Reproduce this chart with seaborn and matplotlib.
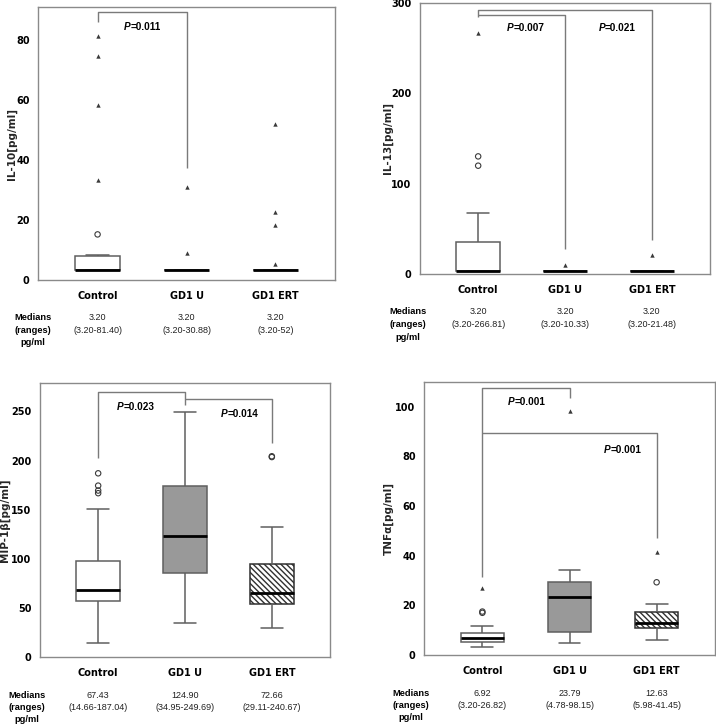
import numpy as np
import pandas as pd
import matplotlib
matplotlib.use("Agg")
import matplotlib.pyplot as plt
import matplotlib.transforms as mtransforms
import seaborn as sns

# ---------------- data ----------------
cats = ["Control", "GD1 U", "GD1 ERT"]

# five-number summaries: [lower whisker, Q1, median, Q3, upper whisker]
il10_box = [[3.2, 3.2, 3.2, 8.0, 8.2], [3.2, 3.2, 3.2, 3.2, 3.2], [3.2, 3.2, 3.2, 3.2, 3.2]]
il10_circles = [[15.2], [], []]
il10_extremes = [[33.5, 58.3, 74.5, 81.4], [9.1, 30.88], [5.5, 18.2, 22.6, 52.0]]
il10_medians = ["3.20", "3.20", "3.20"]
il10_ranges = ["(3.20-81.40)", "(3.20-30.88)", "(3.20-52)"]
il10_p = ["0.011"]

il13_box = [[3.2, 3.2, 3.2, 35.3, 67.2], [3.2, 3.2, 3.2, 3.2, 3.2], [3.2, 3.2, 3.2, 3.2, 3.2]]
il13_circles = [[119.9, 130.2], [], []]
il13_extremes = [[266.81], [10.33], [21.48]]
il13_medians = ["3.20", "3.20", "3.20"]
il13_ranges = ["(3.20-266.81)", "(3.20-10.33)", "(3.20-21.48)"]
il13_p = ["0.007", "0.021"]

mip_box = [[14.66, 57.3, 67.8, 98.2, 150.5], [34.95, 86.0, 123.7, 174.0, 249.69], [29.11, 54.0, 65.0, 94.6, 132.2]]
mip_circles = [[166.8, 169.5, 174.5, 187.04], [], [203.6, 204.4]]
mip_extremes = [[], [], []]
mip_medians = ["67.43", "124.90", "72.66"]
mip_ranges = ["(14.66-187.04)", "(34.95-249.69)", "(29.11-240.67)"]
mip_p = ["0.023", "0.014"]

tnf_box = [[3.2, 5.4, 6.9, 9.0, 11.7], [4.78, 9.4, 23.2, 29.6, 34.3], [5.98, 10.8, 12.8, 17.3, 20.7]]
tnf_circles = [[17.0, 17.5], [], [29.3]]
tnf_extremes = [[26.82], [98.15], [41.45]]
tnf_medians = ["6.92", "23.79", "12.63"]
tnf_ranges = ["(3.20-26.82)", "(4.78-98.15)", "(5.98-41.45)"]
tnf_p = ["0.001", "0.001"]

# ---------------- styling ----------------
sns.set_style("white")
plt.rcParams["font.family"] = ["DejaVu Sans"]
plt.rcParams["hatch.linewidth"] = 1.0

W, H = 716, 726
fig = plt.figure(figsize=(W / 100, H / 100), dpi=100)

LINE = "#5f5f5f"
SPINE = "#8a8a8a"
BRK = "#7a7a7a"
SMALL = "Liberation Sans"


def add_axes_px(L, R, T, B):
    return fig.add_axes([L / W, 1 - B / H, (R - L) / W, (B - T) / H])


def ptext(ax, x, y, val):
    off = -8.0
    ax.annotate("P", (x, y), xytext=(off, 0), textcoords="offset points",
                ha="right", va="center", fontstyle="italic", fontweight="bold",
                fontsize=7.2, family=SMALL, color="black")
    ax.annotate("=" + val, (x, y), xytext=(off, 0), textcoords="offset points",
                ha="left", va="center", fontweight="bold",
                fontsize=7.2, family=SMALL, color="black")


def panel(rect, box, circles, extremes, fills, hatched, ylim, yticks, ylabel,
          ylab_x, brackets, ptexts, medians, ranges, block_x):
    L, R, T, B = rect
    ax = add_axes_px(L, R, T, B)
    rows = []
    for g, vals in zip(cats, box):
        for v in vals:
            rows.append((g, v))
    df = pd.DataFrame(rows, columns=["group", "value"])
    sns.boxplot(data=df, x="group", y="value", order=cats, hue="group",
                hue_order=cats, palette=dict(zip(cats, fills)), legend=False,
                saturation=1, width=0.5, whis=(0, 100), showfliers=False,
                linecolor=LINE, linewidth=1.1,
                medianprops=dict(color="black", linewidth=2.0), ax=ax)
    for p in ax.patches:
        xs = p.get_path().vertices[:, 0]
        idx = int(round(float(np.mean(xs))))
        if 0 <= idx < 3 and hatched[idx]:
            p.set_hatch("\\" * 6)
            p.set_edgecolor("#303030")
    for i, vals in enumerate(circles):
        if vals:
            ax.scatter([i] * len(vals), vals, s=15, facecolors="none",
                       edgecolors="#3a3a3a", linewidths=0.8, zorder=5)
    for i, vals in enumerate(extremes):
        if vals:
            ax.scatter([i] * len(vals), vals, s=10, marker="^", color="#3a3a3a",
                       linewidths=0, zorder=5)
    for seg in brackets:
        xs, ys = zip(*seg)
        ax.plot(xs, ys, color=BRK, lw=1.0, solid_capstyle="butt", zorder=4)
    for (x, y), val in ptexts:
        ptext(ax, x, y, val)

    ax.set_xlim(-0.67, 2.67)
    ax.set_ylim(*ylim)
    ax.set_yticks(yticks)
    ax.set_yticklabels([str(t) for t in yticks], fontweight="bold", fontsize=7)
    ax.set_xticks(range(3))
    ax.set_xticklabels(cats, fontweight="bold", fontsize=7)
    ax.set_xlabel("")
    ax.set_ylabel(ylabel, fontweight="bold", fontsize=7.5)
    ax.yaxis.set_label_coords(ylab_x, 0.5)
    ax.tick_params(axis="both", direction="out", length=4, width=0.8,
                   color=SPINE, labelcolor="black", pad=2)
    ax.tick_params(axis="x", pad=4)
    for s in ax.spines.values():
        s.set_visible(True)
        s.set_color(SPINE)
        s.set_linewidth(1.0)

    trans = mtransforms.blended_transform_factory(ax.transData, fig.transFigure)
    ys = [1 - (B + 38) / H, 1 - (B + 50.5) / H, 1 - (B + 63) / H]
    for i in range(3):
        ax.text(i, ys[0], medians[i], transform=trans, ha="center", va="center",
                fontsize=6.5, family=SMALL, color="#222222")
        ax.text(i, ys[1], ranges[i], transform=trans, ha="center", va="center",
                fontsize=6.5, family=SMALL, color="#222222")
    for lab, y in zip(["Medians", "(ranges)", "pg/ml"], ys):
        fig.text(block_x / W, y, lab, ha="center", va="center", fontsize=6.7,
                 fontweight="bold", family=SMALL, color="black")
    return ax


white3 = ["white", "white", "white"]
mixed = ["white", "#999999", "white"]

panel((38, 335, 7, 280), il10_box, il10_circles, il10_extremes, white3,
      [False, False, False], (0, 91), [0, 20, 40, 60, 80], "IL-10[pg/ml]", -0.071,
      [[(0, 86), (0, 89.4), (1, 89.4), (1, 37.3)]],
      [((0.5, 84.5), il10_p[0])], il10_medians, il10_ranges, 33)

panel((420, 710, 3, 274), il13_box, il13_circles, il13_extremes, white3,
      [False, False, False], (0, 300), [0, 100, 200, 300], "IL-13[pg/ml]", -0.093,
      [[(0, 285), (0, 292.6), (2, 292.6), (2, 37.7)],
       [(0, 287), (1, 287), (1, 27.8)]],
      [((0.54, 272), il13_p[0]), ((1.59, 272), il13_p[1])],
      il13_medians, il13_ranges, 408)

panel((40, 330, 383, 657), mip_box, mip_circles, mip_extremes, mixed,
      [False, False, True], (0, 279), [0, 50, 100, 150, 200, 250], "MIP-1β[pg/ml]", -0.103,
      [[(0, 202.4), (0, 269.6), (1, 269.6), (1, 256.7)],
       [(1, 262.8), (2, 262.8), (2, 217.7)]],
      [((0.42, 255), mip_p[0]), ((1.62, 247), mip_p[1])],
      mip_medians, mip_ranges, 27)

panel((424, 715, 382, 655), tnf_box, tnf_circles, tnf_extremes, mixed,
      [False, False, True], (0, 110), [0, 20, 40, 60, 80, 100], "TNFα[pg/ml]", -0.103,
      [[(0, 31.6), (0, 107.4), (1, 107.4), (1, 103.6)],
       [(0, 89.5), (2, 89.5), (2, 47.1)]],
      [((0.5, 101.9), tnf_p[0]), ((1.6, 82.4), tnf_p[1])],
      tnf_medians, tnf_ranges, 411)

fig.savefig("out.png", dpi=100)
